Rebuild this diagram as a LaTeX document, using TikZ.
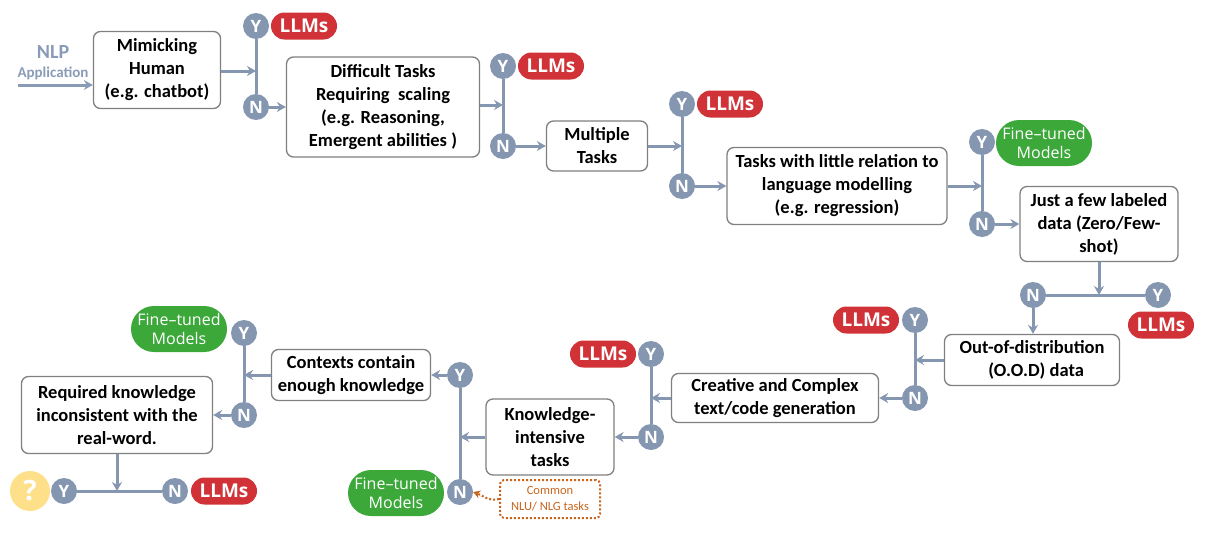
\documentclass[tikz,border=0pt]{standalone}
\usepackage{fontspec}
\setmainfont{Carlito}
\newfontfamily\pillfont{Open Sans}
\usepackage{xcolor}
\definecolor{yngray}{HTML}{8496B0}
\definecolor{nlpgray}{HTML}{8A9BB8}
\definecolor{boxborder}{HTML}{808080}
\definecolor{llmred}{HTML}{D03237}
\definecolor{ftgreen}{HTML}{3CA83A}
\definecolor{qyellow}{HTML}{FFE08A}
\definecolor{nluorange}{HTML}{C8641E}
\usetikzlibrary{arrows.meta,shapes.misc}

\begin{document}
\begin{tikzpicture}[x=1pt,y=-1pt,
                    box/.style={draw=boxborder,line width=1.3pt,rounded corners=7pt,fill=white,align=center,
                                font=\fontsize{18.5}{23}\selectfont\bfseries,inner sep=1pt},
                    yn/.style={circle,fill=yngray,text=white,minimum size=26pt,inner sep=0pt,
                               font=\pillfont\fontsize{17}{17}\selectfont\bfseries},
                    llm/.style={rounded rectangle,fill=llmred,text=white,minimum width=68pt,minimum height=27pt,
                                inner sep=1pt,font=\pillfont\fontsize{19}{19}\selectfont\bfseries},
                    ft/.style={rounded rectangle,fill=ftgreen,text=white,minimum width=98pt,minimum height=46pt,
                               inner sep=1pt,align=center,font=\pillfont\fontsize{16}{19}\selectfont},
                    line/.style={draw=yngray,line width=3pt},
                    flow/.style={line,-{Stealth[length=9pt,width=10pt,inset=3pt]}}]
  \useasboundingbox (0,0) rectangle (1215,538);

  % start
  \node[text=nlpgray,font=\fontsize{20}{20}\selectfont\bfseries] (nlp) at (53,52) {NLP};
  \node[text=nlpgray,font=\fontsize{15}{15}\selectfont\bfseries] (app) at (53,73) {Application};
  \coordinate (start) at (18,85);

  % top row
  \node[box,minimum width=127pt,minimum height=77pt] (mimic) at (157,70) {Mimicking\\Human\\(e.g. chatbot)};
  \node[yn] (y1) at (256,26) {Y};
  \node[yn] (n1) at (256,107) {N};
  \node[llm] (l1) at (304,26) {LLMs};
  \coordinate (j1) at (256,71);

  \node[box,minimum width=193pt,minimum height=100pt] (difficult) at (383,107) {Difficult Tasks\\Requiring~~scaling\\(e.g. Reasoning,\\Emergent abilities )};
  \node[yn] (y2) at (503,66) {Y};
  \node[yn] (n2) at (503,146) {N};
  \node[llm] (l2) at (551,66) {LLMs};
  \coordinate (j2) at (503,105);

  \node[box,minimum width=101pt,minimum height=50pt] (multi) at (597,146) {Multiple\\Tasks};
  \node[yn] (y3) at (682,104) {Y};
  \node[yn] (n3) at (682,186) {N};
  \node[llm] (l3) at (730,104) {LLMs};
  \coordinate (j3) at (682,146);

  \node[box,minimum width=220pt,minimum height=77pt] (little) at (837,186) {Tasks with little relation to\\language modelling\\(e.g. regression)};
  \node[yn] (y4) at (982,142) {Y};
  \node[yn] (n4) at (982,224) {N};
  \node[ft] (f4) at (1044,143) {Fine\textendash tuned\\Models};
  \coordinate (j4) at (982,186);

  \node[box,minimum width=158pt,minimum height=75pt] (few) at (1099,224) {Just a few labeled\\data (Zero/Few-\\shot)};
  \node[yn] (n5) at (1033,295) {N};
  \node[yn] (y5) at (1158,295) {Y};
  \node[llm] (l5) at (1161,325) {LLMs};
  \coordinate (j5) at (1099,295);

  % bottom row
  \node[box,minimum width=175pt,minimum height=51pt] (ood) at (1032,360) {Out-of-distribution\\~~(O.O.D) data};
  \node[yn] (y6) at (915,320) {Y};
  \node[yn] (n6) at (915,398) {N};
  \node[llm] (l6) at (866,320) {LLMs};
  \coordinate (j6) at (915,360);

  \node[box,minimum width=207pt,minimum height=49pt] (creative) at (775,398) {Creative and Complex\\text/code generation};
  \node[yn] (y7) at (651,354) {Y};
  \node[yn] (n7) at (651,437) {N};
  \node[llm] (l7) at (603,354) {LLMs};
  \coordinate (j7) at (651,398);

  \node[box,minimum width=128pt,minimum height=76pt] (knowledge) at (550,437) {Knowledge-\\intensive\\tasks};
  \node[yn] (y8) at (460,375) {Y};
  \node[yn] (n8) at (460,492) {N};
  \node[ft] (f8) at (396,493) {Fine\textendash tuned\\Models};
  \coordinate (j8) at (460,437);
  \node[draw=nluorange,dotted,line width=2pt,rounded corners=4pt,text=nluorange,align=center,
        minimum width=100pt,minimum height=38pt,inner sep=1pt,
        font=\fontsize{12.5}{16}\selectfont] (common) at (550,499) {Common\\NLU/ NLG tasks};

  \node[box,minimum width=159pt,minimum height=51pt] (contexts) at (351,375) {Contexts contain\\enough knowledge};
  \node[yn] (y9) at (244,333) {Y};
  \node[yn] (n9) at (244,415) {N};
  \node[ft] (f9) at (179,329) {Fine\textendash tuned\\Models};
  \coordinate (j9) at (244,375);

  \node[box,minimum width=191pt,minimum height=77pt] (required) at (117,415) {Required knowledge\\inconsistent with the\\real-word.};
  \node[yn] (y10) at (64,491) {Y};
  \node[yn] (n10) at (175,491) {N};
  \node[circle,fill=qyellow,text=white,minimum size=40pt,inner sep=0pt,
        font=\pillfont\fontsize{28}{28}\selectfont\bfseries] (q10) at (30,491) {?};
  \node[llm] (l10) at (224,491) {LLMs};
  \coordinate (j10) at (117,491);

  % connectors
  \draw[flow,draw=nlpgray] (start) -- (start -| mimic.west);
  \draw[flow] (mimic.east |- j1) -- (j1);
  \draw[line] (y1) -- (n1);
  \draw[flow] (n1) -- (difficult);
  \draw[flow] (difficult.east |- j2) -- (j2);
  \draw[line] (y2) -- (n2);
  \draw[flow] (n2) -- (multi);
  \draw[flow] (multi) -- (j3);
  \draw[line] (y3) -- (n3);
  \draw[flow] (n3) -- (little);
  \draw[flow] (little) -- (j4);
  \draw[line] (y4) -- (n4);
  \draw[flow] (n4) -- (few);
  \draw[flow] (few) -- (j5);
  \draw[line] (n5) -- (y5);
  \draw[flow] (n5) -- (n5 |- ood.north);
  \draw[flow] (ood) -- (j6);
  \draw[line] (y6) -- (n6);
  \draw[flow] (n6) -- (creative);
  \draw[flow] (creative) -- (j7);
  \draw[line] (y7) -- (n7);
  \draw[flow] (n7) -- (knowledge);
  \draw[flow] (knowledge) -- (j8);
  \draw[line] (y8) -- (n8);
  \draw[flow] (y8) -- (contexts);
  \draw[flow] (contexts) -- (j9);
  \draw[line] (y9) -- (n9);
  \draw[flow] (n9) -- (required);
  \draw[flow] (required) -- (j10);
  \draw[line] (y10) -- (n10);
  \draw[draw=nluorange,dotted,line width=2pt,-{Stealth[length=7pt,width=8pt]}] (common.west) to[out=195,in=-20] (n8.east);
\end{tikzpicture}
\end{document}
